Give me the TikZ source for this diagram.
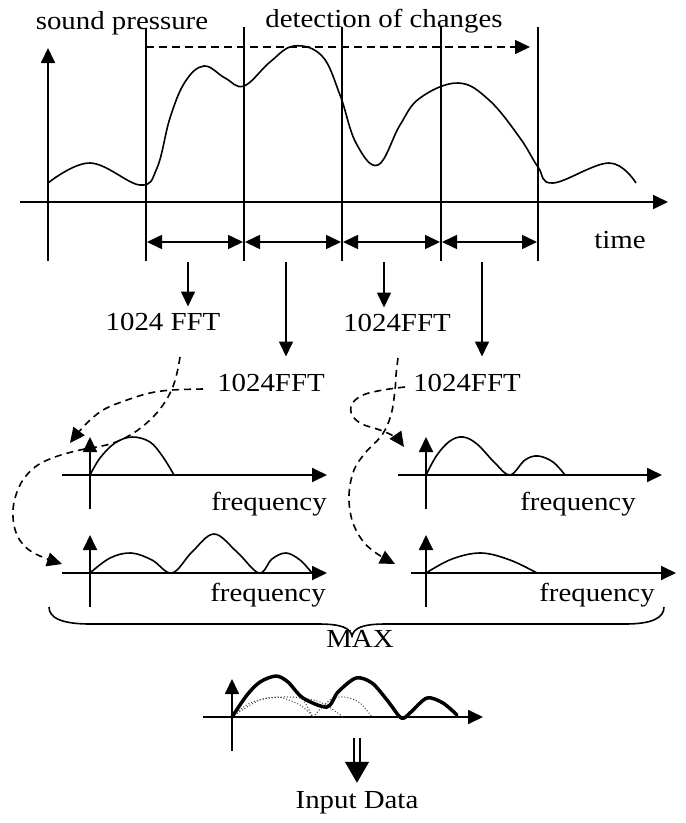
\documentclass[tikz,border=0pt]{standalone}
\usepackage{fontspec}
\setmainfont{Liberation Serif}
\usetikzlibrary{calc,arrows.meta}

\begin{document}
\begin{tikzpicture}[x=1pt,y=-1pt]

\def\lineWidth{1.6pt}
\def\thickWidth{2.4pt}
\def\textsize{1.11}
\def\tipLength{15pt}
\def\tipWidth{14pt}

\tikzset{
  txt/.style={font=\fontsize{26}{30}\selectfont, xscale=\textsize, inner sep=0pt, anchor=base},
  pointer/.style={line width=\lineWidth, -{Triangle[length=\tipLength, width=\tipWidth]}},
  spanarrow/.style={line width=\lineWidth, {Triangle[length=15pt, width=14pt]}-{Triangle[length=15pt, width=14pt]}},
  axisline/.style={line width=1.8pt, -{Triangle[length=15pt, width=14pt]}},
  flow/.style={line width=\lineWidth, dash pattern=on 7pt off 5pt, -{Triangle[length=\tipLength, width=\tipWidth]}},
  envelope/.style={line width=3.5pt, line join=round, line cap=round},
  partial/.style={line width=1pt, dotted, black!75},
  bigarrow/.style={double, double distance=4.5pt, line width=1.5pt, -{Triangle[length=21pt, width=24pt]}}
}

\useasboundingbox (0,0) rectangle (686,823);

\coordinate (cut-a) at (188,262);
\coordinate (cut-b) at (286,262);
\coordinate (cut-c) at (384,262);
\coordinate (cut-d) at (482,262);

\coordinate (flow-a) at (180,357);
\coordinate (flow-b) at (203,389);
\coordinate (flow-c) at (398,358);
\coordinate (flow-d) at (405,387);

\coordinate (max-foot) at (357,738);

%TEXT

\node[txt] (sound) at (122,29) {sound pressure};
\node[txt] (detect) at (384,27) {detection of changes};
\node[txt] (time) at (620,248) {time};

\node[txt] (fft-a) at (163,330) {1024 FFT};
\node[txt] (fft-b) at (271,391) {1024FFT};
\node[txt] (fft-c) at (397,331) {1024FFT};
\node[txt] (fft-d) at (467,391) {1024FFT};

\node[txt] (freq-tl) at (269,510) {frequency};
\node[txt] (freq-tr) at (578,510) {frequency};
\node[txt] (freq-bl) at (268,601) {frequency};
\node[txt] (freq-br) at (597,601) {frequency};

\node[txt] (max) at (360,647) {MAX};
\node[txt] (input) at (357,808) {Input Data};

%DRAW

% sound pressure over time
\draw[axisline] (20,202) -- (668,202);
\draw[axisline] (48,261) -- (48,48);
\draw[line width=\thickWidth] (146,28) -- (146,261);
\foreach \x in {244,342,441,538}
  \draw[line width=\lineWidth] (\x,27) -- (\x,261);
\draw[pointer, dash pattern=on 8pt off 5pt] (146,47) -- (530,47);
\foreach \a/\b in {146/244,244/342,342/441,441/538}
  \draw[spanarrow] (\a+1,242) -- (\b-1,242);

\draw[line width=\lineWidth] plot[smooth, tension=0.65] coordinates {
  (48,183) (90,163) (140,185) (157,168) (170,118) (185,82) (204,66) (225,78)
  (244,86) (270,62) (294,46) (322,56) (340,95) (356,143) (378,165) (400,125)
  (420,98) (458,83) (489,100) (520,138) (538,167) (553,183) (609,163) (636,183)};

% windows to FFT
\draw[pointer, shorten >=6pt] (cut-a) -- (cut-a |- fft-a.north);
\draw[pointer, shorten >=17pt] (cut-b) -- (cut-b |- fft-b.north);
\draw[pointer, shorten >=6pt] (cut-c) -- (cut-c |- fft-c.north);
\draw[pointer, shorten >=17pt] (cut-d) -- (cut-d |- fft-d.north);

% spectra
\foreach \ox/\oy/\l/\r in {90/475/62/327, 90/573/62/327, 426/475/398/662, 426/573/411/676, 232/717/203/483} {
  \draw[axisline] (\l,\oy) -- (\r,\oy);
  \draw[axisline] (\ox,\oy+34) -- (\ox,\oy-38);
}

\draw[line width=\lineWidth] plot[smooth, tension=0.6] coordinates {
  (90,475) (100,458) (115,443) (132,437) (150,442) (163,457) (174,475)};
\draw[line width=\lineWidth] plot[smooth, tension=0.6] coordinates {
  (90,573) (110,558) (131,553) (152,560) (172,573) (192,552) (214,534) (237,552) (259,573)
  (272,559) (286,553) (300,560) (312,573)};
\draw[line width=\lineWidth] plot[smooth, tension=0.6] coordinates {
  (426,475) (437,455) (450,441) (463,437) (477,444) (495,463) (510,475) (525,460)
  (538,456) (553,462) (565,475)};
\draw[line width=\lineWidth] plot[smooth, tension=0.6] coordinates {
  (426,573) (452,559) (481,553) (510,560) (537,573)};

% FFT results to spectra
\draw[flow] plot[smooth, tension=0.6] coordinates {
  (flow-a) (177,373) (172,389) (163,405) (150,420) (132,434) (110,444) (80,450)
  (55,457) (35,467) (20,485) (13,510) (17,535) (32,552) (62,564)};
\draw[flow] plot[smooth, tension=0.6] coordinates {
  (flow-b) (172,390) (150,393) (127,400) (103,410) (85,425) (70,443)};
\draw[flow] plot[smooth, tension=0.6] coordinates {
  (flow-c) (396,375) (395,390) (391,415) (382,435) (366,452) (354,470) (349,495)
  (352,520) (362,540) (376,553) (395,564)};
\draw[flow] plot[smooth, tension=0.6] coordinates {
  (flow-d) (383,390) (363,395) (352,404) (352,415) (362,424) (380,430) (395,437) (404,447)};

% brace
\draw[line width=\lineWidth] (49,607) .. controls (49,618) and (62,624) .. (90,624) -- (318,624)
  .. controls (342,624) and (350,628) .. (352,636) .. controls (354,628) and (362,624) .. (386,624)
  -- (625,624) .. controls (652,624) and (664,618) .. (664,607);

% maximum of the spectra
\draw[partial] plot[smooth] coordinates {(232,717) (250,703) (277,697) (300,705) (313,717)};
\draw[partial] plot[smooth] coordinates {(232,717) (260,700) (290,697) (320,702) (343,717)};
\draw[partial] plot[smooth] coordinates {(287,681) (302,698) (313,717)};
\draw[partial] plot[smooth] coordinates {(313,717) (330,700) (345,697) (360,703) (372,717)};

\draw[envelope] plot[smooth, tension=0.5] coordinates {
  (232,717) (247,695) (260,682) (276,676) (288,682) (303,698) (327,707) (338,692)
  (356,678) (372,683) (387,700) (399,716) (404,718) (411,712) (427,698) (443,703) (457,715)};

\draw[bigarrow, shorten >=8pt] (max-foot) -- (input.north);

\end{tikzpicture}
\end{document}
